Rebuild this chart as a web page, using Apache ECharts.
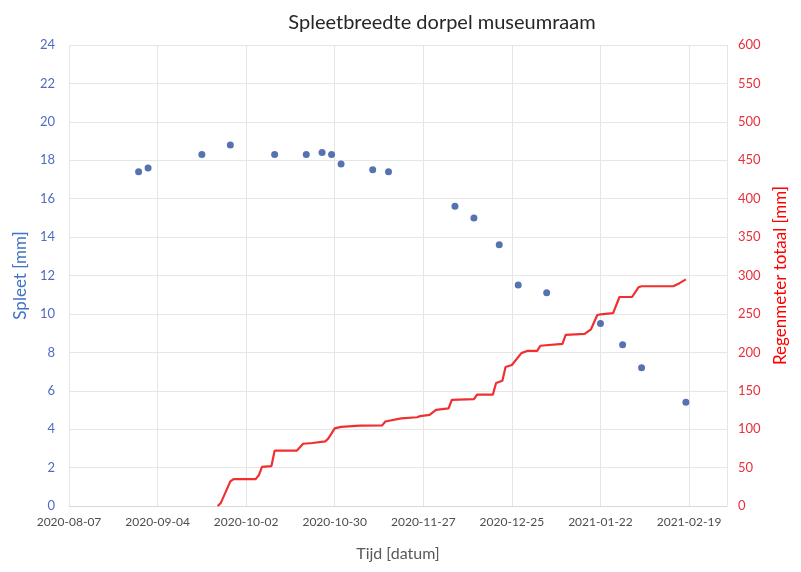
<!DOCTYPE html>
<html>
<head>
<meta charset="utf-8">
<script src="https://cdn.jsdelivr.net/npm/echarts@6/dist/echarts.min.js"></script>
<style>html,body{margin:0;padding:0;background:#fff;}#c{width:801px;height:572px;}</style>
</head>
<body>
<div id="c"></div>
<script>
// ---- data ----
var xStart = '2020-08-07';
var xEnd = '2021-03-03';
var xTickDays = 28;

var spleetDates = ['2020-08-29','2020-09-01','2020-09-18','2020-09-27','2020-10-11','2020-10-21','2020-10-26','2020-10-29','2020-11-01','2020-11-11','2020-11-16','2020-12-07','2020-12-13','2020-12-21','2020-12-27','2021-01-05','2021-01-22','2021-01-29','2021-02-04','2021-02-18'];
var spleetValues = [17.4,17.6,18.3,18.8,18.3,18.3,18.4,18.3,17.8,17.5,17.4,15.6,15.0,13.6,11.5,11.1,9.5,8.4,7.2,5.4];

var regenDates = ['2020-09-23','2020-09-24','2020-09-27','2020-09-28','2020-10-05','2020-10-06','2020-10-07','2020-10-10','2020-10-11','2020-10-18','2020-10-20','2020-10-23','2020-10-27','2020-10-28','2020-10-30','2020-11-01','2020-11-07','2020-11-14','2020-11-15','2020-11-20','2020-11-25','2020-11-26','2020-11-29','2020-12-01','2020-12-05','2020-12-06','2020-12-13','2020-12-14','2020-12-19','2020-12-20','2020-12-22','2020-12-23','2020-12-25','2020-12-28','2020-12-30','2021-01-02','2021-01-03','2021-01-10','2021-01-11','2021-01-17','2021-01-19','2021-01-21','2021-01-22','2021-01-26','2021-01-28','2021-02-01','2021-02-03','2021-02-04','2021-02-14','2021-02-16','2021-02-18'];
var regenValues = [0,4,32,35,35,40,51,52,72,72,81,82,84,88,101,103,104.5,105,110,114,115.5,117,118.5,125,127,138,139,145,145,160,163,181,183.5,199,202,202,208.6,211,222.6,224,230,248.6,249.5,251,272,272,284.6,286,286,290,295];

var leftTicks = {min:0, max:24, step:2};
var rightTicks = {min:0, max:600, step:50};

// ---- helpers ----
var DAY = 86400000;
function toMs(s){ var p=s.split('-'); return Date.UTC(+p[0], +p[1]-1, +p[2]); }
var base = toMs(xStart);
function dayOff(s){ return Math.round((toMs(s)-base)/DAY); }
function pad(n){ return (n<10?'0':'')+n; }
function fmt(d){ var dt=new Date(base + d*DAY); return dt.getUTCFullYear()+'-'+pad(dt.getUTCMonth()+1)+'-'+pad(dt.getUTCDate()); }

var spleetData = spleetDates.map(function(d,i){ return [dayOff(d), spleetValues[i]]; });
var regenData = regenDates.map(function(d,i){ return [dayOff(d), regenValues[i]]; });

var FONT = 'Lato, "Open Sans", sans-serif';
var chart = echarts.init(document.getElementById('c'), null, {renderer:'canvas'});
chart.setOption({
  backgroundColor:'#ffffff',
  animation:false,
  title:{
    text:'Spleetbreedte dorpel museumraam',
    left:437, top:8, textAlign:'center',
    textStyle:{fontFamily:FONT, fontSize:20, fontWeight:'normal', color:'#262626'}
  },
  grid:{left:69, right:74, top:45, bottom:66, containLabel:false},
  xAxis:{
    type:'value',
    min:0, max:dayOff(xEnd), interval:xTickDays,
    name:'Tijd [datum]', nameLocation:'middle', nameGap:40,
    nameTextStyle:{fontFamily:FONT, fontSize:16, color:'#595959'},
    axisLine:{show:true, lineStyle:{color:'#d9d9d9'}},
    axisTick:{show:false},
    axisLabel:{fontFamily:FONT, fontSize:12, color:'#4d4d4d', margin:10,
      formatter:function(v){ return (v % xTickDays === 0) ? fmt(v) : ''; }},
    splitLine:{show:true, lineStyle:{color:'#e6e6e6'}}
  },
  yAxis:[{
    type:'value', position:'left',
    min:leftTicks.min, max:leftTicks.max, interval:leftTicks.step,
    name:'Spleet [mm]', nameLocation:'middle', nameGap:38,
    nameTextStyle:{fontFamily:FONT, fontSize:17, color:'#4472C4'},
    axisLine:{show:false}, axisTick:{show:false},
    axisLabel:{fontFamily:FONT, fontSize:13, color:'#4F6BC4', margin:14},
    splitLine:{show:true, lineStyle:{color:'#e6e6e6'}}
  },{
    type:'value', position:'right',
    min:rightTicks.min, max:rightTicks.max, interval:rightTicks.step,
    name:'Regenmeter totaal [mm]', nameLocation:'middle', nameGap:40,
    nameTextStyle:{fontFamily:FONT, fontSize:17, color:'#FF0000'},
    axisLine:{show:false}, axisTick:{show:false},
    axisLabel:{fontFamily:FONT, fontSize:13, color:'#E8303A', margin:11},
    splitLine:{show:false}
  }],
  series:[{
    type:'line', yAxisIndex:1, data:regenData,
    showSymbol:false, symbol:'none',
    lineStyle:{color:'#F03030', width:2.2},
    z:2
  },{
    type:'scatter', yAxisIndex:0, data:spleetData,
    symbolSize:7,
    itemStyle:{color:'#2D4FA0'},
    z:3
  }]
});
</script>
</body>
</html>
